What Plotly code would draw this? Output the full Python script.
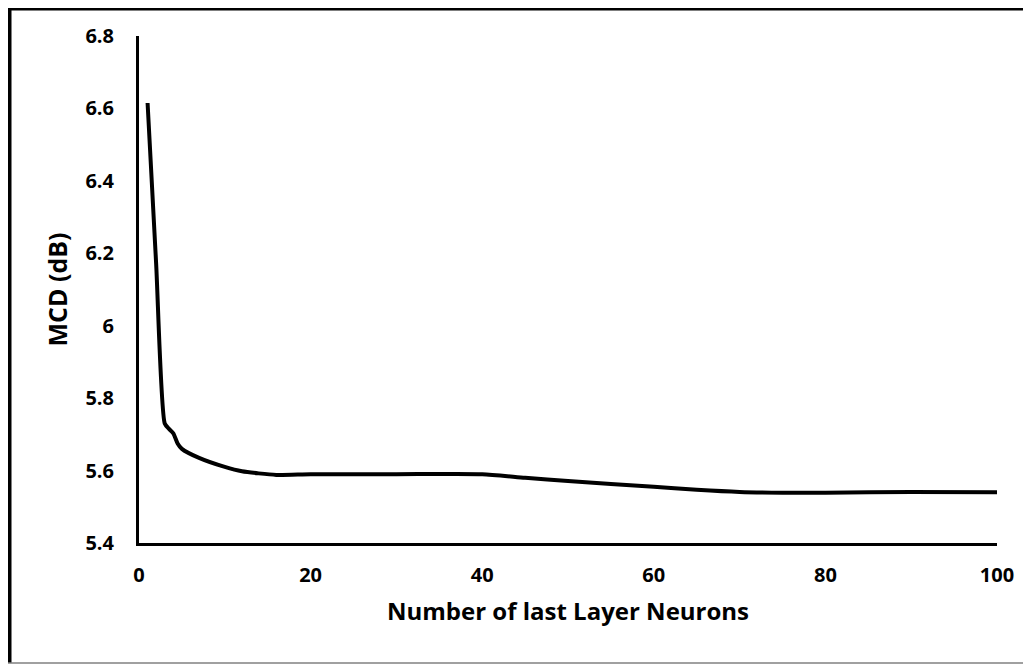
import plotly.graph_objects as go

# number of neurons in the last layer vs. mel cepstral distortion
neurons = [1, 2, 3, 3.5, 4, 4.5, 5, 7, 10, 12, 16, 20, 30, 40, 45, 50, 60, 65, 70, 75, 80, 90, 100]
mcd = [6.615, 6.17, 5.73, 5.715, 5.703, 5.675, 5.66, 5.635, 5.61, 5.598, 5.588, 5.59, 5.59,
       5.59, 5.58, 5.571, 5.555, 5.547, 5.541, 5.539, 5.539, 5.541, 5.540]

x_ticks = [0, 20, 40, 60, 80, 100]
y_ticks = [5.4, 5.6, 5.8, 6.0, 6.2, 6.4, 6.6, 6.8]
y_labels = ['5.4', '5.6', '5.8', '6', '6.2', '6.4', '6.6', '6.8']

font_family = "Open Sans, Lato, sans-serif"

# plot area inside the figure (pixels)
L, T, PW, PH = 131, 28, 858, 507
W, H = 1031, 664

fig = go.Figure()

fig.add_trace(go.Scatter(
    x=neurons,
    y=mcd,
    mode='lines',
    line=dict(color='black', width=4, shape='spline', smoothing=0.6),
    showlegend=False
))

fig.update_layout(
    width=W,
    height=H,
    margin=dict(l=L, r=W - L - PW, t=T, b=H - T - PH),
    paper_bgcolor='white',
    plot_bgcolor='white',
    font=dict(family=font_family, size=20, color='black'),
    xaxis=dict(
        range=[0, 100],
        tickvals=x_ticks,
        showgrid=False,
        zeroline=False,
        showline=True,
        linecolor='black',
        linewidth=3,
        ticks='',
        ticklabelstandoff=12,
        tickfont=dict(family=font_family, size=20, color='black', weight='bold'),
        title=dict(text='<b>Number of last Layer Neurons</b>',
                   font=dict(family=font_family, size=24, color='black'),
                   standoff=17),
    ),
    yaxis=dict(
        range=[5.4, 6.8],
        tickvals=y_ticks,
        ticktext=y_labels,
        showgrid=False,
        zeroline=False,
        showline=True,
        linecolor='black',
        linewidth=3,
        ticks='',
        ticklabelstandoff=18,
        tickfont=dict(family=font_family, size=20, color='black', weight='bold'),
        title=dict(text='<b>MCD (dB)</b>',
                   font=dict(family=font_family, size=25, color='black'),
                   standoff=11),
    ),
)


def px(xp):
    return (xp - L) / PW


def py(yp):
    return (T + PH - yp) / PH


# outer frame of the picture: thick left and top, thin grey bottom
fig.add_shape(type='line', xref='paper', yref='paper',
              x0=px(1.5), x1=px(1.5), y0=py(655), y1=py(1),
              line=dict(color='black', width=4))
fig.add_shape(type='line', xref='paper', yref='paper',
              x0=px(0), x1=px(W), y0=py(1), y1=py(1),
              line=dict(color='black', width=3))
fig.add_shape(type='line', xref='paper', yref='paper',
              x0=px(0), x1=px(W), y0=py(655), y1=py(655),
              line=dict(color='#808080', width=1.5))

fig.write_html("out.html")
